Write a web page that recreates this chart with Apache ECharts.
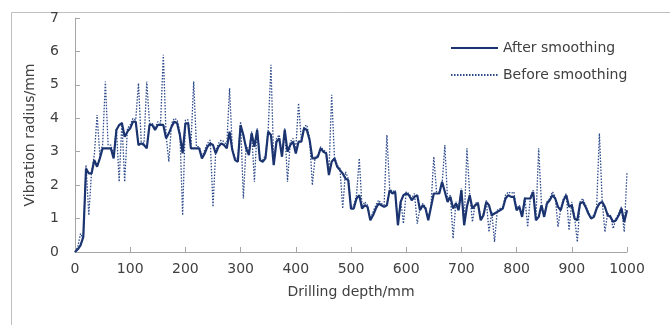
<!DOCTYPE html>
<html>
<head>
<meta charset="utf-8">
<script src="https://cdn.jsdelivr.net/npm/echarts@6/dist/echarts.min.js"></script>
<style>
html,body{margin:0;padding:0;background:#fff;}
#chart{width:670px;height:325px;}
</style>
</head>
<body>
<div id="chart"></div>
<script>
// Drilling depth (mm), 5 mm step
const depthStart = 0, depthStep = 5;
const xTicks = [0,100,200,300,400,500,600,700,800,900,1000];
const yTicks = [0,1,2,3,4,5,6,7];
const seriesNames = ['After smoothing', 'Before smoothing'];

const afterSmoothing = [
0,0.08,0.2,0.45,2.5,2.35,2.35,2.75,2.55,2.8,
3.1,3.1,3.1,3.1,2.8,3.65,3.8,3.85,3.45,3.6,
3.7,3.9,3.9,3.2,3.25,3.2,3.1,3.8,3.8,3.65,
3.8,3.8,3.8,3.4,3.55,3.75,3.9,3.85,3.5,2.95,
3.85,3.85,3.1,3.1,3.1,3.1,2.8,2.95,3.15,3.25,
3.2,2.95,3.15,3.25,3.2,3.1,3.6,3.05,2.75,2.7,
3.8,3.5,3.1,2.9,3.55,3.15,3.65,2.75,2.7,2.8,
3.6,3.5,2.6,3.3,3.4,2.85,3.65,3.0,3.2,3.3,
2.95,3.3,3.3,3.7,3.65,3.35,2.8,2.8,2.85,3.1,
3.0,2.95,2.3,2.7,2.8,2.55,2.45,2.35,2.2,2.15,
1.3,1.3,1.6,1.7,1.3,1.4,1.35,0.95,1.1,1.3,
1.45,1.4,1.35,1.4,1.85,1.75,1.8,0.8,1.5,1.7,
1.75,1.7,1.55,1.65,1.7,1.25,1.4,1.3,0.95,1.35,
1.75,1.75,1.75,2.1,1.8,1.5,1.65,1.3,1.45,1.25,
1.85,0.8,1.35,1.7,1.3,1.4,1.45,0.95,1.1,1.5,
1.4,1.1,1.15,1.2,1.25,1.3,1.6,1.7,1.65,1.65,
1.25,1.35,1.05,1.6,1.6,1.6,1.8,0.95,1.05,1.4,
1.05,1.45,1.55,1.7,1.6,1.35,1.25,1.55,1.7,1.35,
1.4,1.0,0.95,1.45,1.5,1.35,1.15,1.0,1.05,1.3,
1.45,1.5,1.35,1.1,1.05,0.9,0.95,1.1,1.3,0.9,
1.25
];

const beforeSmoothing = [
0,0.15,0.55,0.4,2.6,1.1,2.4,2.9,4.1,2.9,
3.2,5.1,3.2,3.2,2.9,3.7,2.1,3.9,2.1,3.7,
3.8,4.0,3.95,5.05,3.3,3.25,5.1,3.85,3.85,3.7,
3.9,3.85,5.9,3.5,2.7,3.85,4.0,3.95,3.6,1.1,
3.95,3.95,3.2,5.1,3.15,3.15,2.85,3.05,3.25,3.35,
1.35,3.05,3.25,3.35,3.3,3.2,4.9,3.1,2.8,2.8,
3.9,1.6,3.2,3.0,3.6,2.1,3.7,2.8,2.75,2.9,
3.65,5.6,2.7,3.4,3.5,2.9,3.7,2.1,3.3,3.4,
3.1,4.45,3.35,3.75,3.8,3.4,2.0,2.85,2.9,3.15,
3.05,3.0,2.4,4.7,2.85,2.6,2.5,1.3,2.4,2.2,
1.35,1.4,1.7,2.8,1.35,1.5,1.4,1.0,1.2,1.4,
1.55,1.45,1.4,3.5,1.9,1.8,1.85,0.85,1.55,0.85,
1.8,1.75,1.6,1.75,0.85,1.3,1.45,1.35,1.0,1.4,
2.85,1.8,1.8,2.0,3.2,1.55,1.7,0.4,1.5,1.35,
1.9,0.85,3.1,1.75,0.9,1.45,1.5,1.0,1.15,1.55,
0.6,1.2,0.3,1.25,1.3,1.35,1.7,1.8,1.75,1.8,
1.3,1.4,1.1,1.65,0.75,1.65,1.85,1.0,3.1,1.45,
1.1,1.5,1.6,1.8,1.65,0.75,1.3,1.6,1.75,0.65,
1.5,1.05,0.3,1.5,1.6,1.4,1.2,1.05,1.1,1.35,
3.55,1.55,0.6,1.15,1.1,0.7,1.0,1.15,1.35,0.6,
2.4
];

const toPairs = arr => arr.map((v, i) => [depthStart + i * depthStep, v]);

const navy = '#1b3470';
const axisColor = '#a6a6a6';
const textColor = '#404040';
const fontFamily = '"DejaVu Sans", "Open Sans", sans-serif';

const chart = echarts.init(document.getElementById('chart'), null, {renderer: 'canvas'});
chart.setOption({
  animation: false,
  backgroundColor: '#fff',
  textStyle: {fontFamily: fontFamily, color: textColor},
  graphic: [{
    type: 'rect', left: 9, top: 10, z: -10,
    shape: {width: 720, height: 400},
    style: {fill: 'none', stroke: '#bfbfbf', lineWidth: 1}
  }],
  grid: {left: 75, right: 43, top: 18, bottom: 73, containLabel: false},
  legend: {
    orient: 'vertical', left: 445, top: 36, itemWidth: 47, itemHeight: 10, itemGap: 13,
    itemStyle: {opacity: 0},
    textStyle: {fontSize: 14, color: textColor, fontFamily: fontFamily},
    data: seriesNames
  },
  xAxis: {
    type: 'value', min: xTicks[0], max: xTicks[xTicks.length - 1], interval: 100,
    name: 'Drilling depth/mm', nameLocation: 'middle', nameGap: 33,
    nameTextStyle: {fontSize: 14, color: textColor},
    axisLine: {show: true, lineStyle: {color: axisColor, width: 1}},
    axisTick: {show: true, inside: true, length: 5, lineStyle: {color: axisColor}},
    axisLabel: {fontSize: 14, color: textColor, margin: 10, formatter: v => String(v)},
    splitLine: {show: false}
  },
  yAxis: {
    type: 'value', min: yTicks[0], max: yTicks[yTicks.length - 1], interval: 1,
    name: 'Vibration radius/mm', nameLocation: 'middle', nameGap: 38,
    nameTextStyle: {fontSize: 14, color: textColor},
    axisLine: {show: true, lineStyle: {color: axisColor, width: 1}},
    axisTick: {show: true, inside: true, length: 5, lineStyle: {color: axisColor}},
    axisLabel: {fontSize: 14, color: textColor, margin: 16},
    splitLine: {show: false}
  },
  series: [
    {
      name: seriesNames[0], type: 'line', data: toPairs(afterSmoothing),
      symbol: 'none', z: 3,
      lineStyle: {color: navy, width: 2.2, type: 'solid'},
      itemStyle: {color: navy}
    },
    {
      name: seriesNames[1], type: 'line', data: toPairs(beforeSmoothing),
      symbol: 'none', z: 2,
      lineStyle: {color: '#2d4a8a', width: 1.3, type: [1.5, 1.5]},
      itemStyle: {color: '#2d4a8a'}
    }
  ]
});
</script>
</body>
</html>
